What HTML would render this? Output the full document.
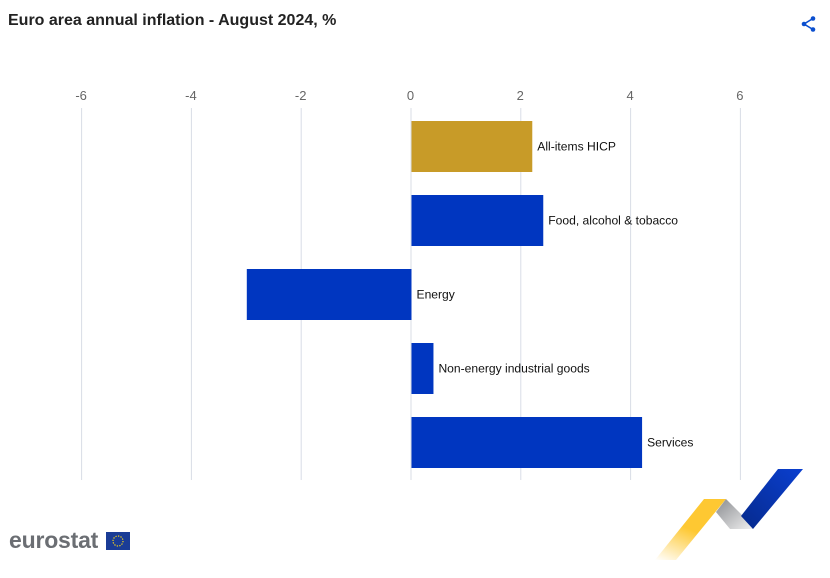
<!DOCTYPE html>
<html><head><meta charset="utf-8"><style>
body{margin:0;width:830px;height:578px;background:#fff;font-family:"Liberation Sans",sans-serif;overflow:hidden;position:relative}
#title{position:absolute;left:8px;top:12px;font-size:16px;font-weight:bold;color:#222}
</style></head><body>
<div id="title">Euro area annual inflation - August 2024, %</div>
<svg id="share" style="position:absolute;left:800px;top:15px" width="18" height="18" viewBox="0 0 18 18">
<circle cx="13" cy="3.5" r="2.3" fill="#0b4fcf"/><circle cx="4" cy="9" r="2.3" fill="#0b4fcf"/><circle cx="13" cy="14.5" r="2.3" fill="#0b4fcf"/>
<path d="M13 3.5L4 9L13 14.5" stroke="#0b4fcf" stroke-width="1.6" fill="none"/></svg>
<svg id="chart" width="830" height="578" style="position:absolute;left:0;top:0"></svg>
<script>
const categories=["All-items HICP","Food, alcohol & tobacco","Energy","Non-energy industrial goods","Services"];
const values=[2.2,2.4,-3.0,0.4,4.2];
const colors=["#c89b28","#0036c0","#0036c0","#0036c0","#0036c0"];
const ticks=[-6,-4,-2,0,2,4,6];
const ns="http://www.w3.org/2000/svg";
const svg=document.getElementById('chart');
const x=v=>411.5+v*54.9;
const top0=110,band=74,barH=51;
function mk(t,a){const e=document.createElementNS(ns,t);for(const k in a)e.setAttribute(k,a[k]);svg.appendChild(e);return e;}
ticks.forEach(t=>{
 const l=mk('line',{x1:x(t)-0.5,x2:x(t)-0.5,y1:108,y2:480,stroke:'#d8dde6','stroke-width':1});
 
 
 const tx=mk('text',{x:x(t)-1,y:100,'text-anchor':'middle','font-size':13,fill:'#666'});
 tx.textContent=t;
 
 
});
categories.forEach((c,i)=>{
 const v=values[i];const y=top0+i*band+11;
 const r=mk('rect',{x:Math.min(x(0),x(v)),y:y,width:Math.abs(x(v)-x(0)),height:barH,fill:colors[i]});
 
 
 const lx=(v>=0?x(v):x(0))+5;
 const t=mk('text',{x:lx,y:y+barH/2+4,'font-size':12.1,fill:'#111'});
 t.textContent=c;
 
 
});
</script>
<div style="position:absolute;left:9px;top:527px;font-size:23px;font-weight:bold;color:#6b6e73;letter-spacing:-0.2px">eurostat</div>
<svg style="position:absolute;left:106px;top:532px" width="24" height="18"><rect width="24" height="18" fill="#1a3c96"/><circle cx="12" cy="9" r="5" fill="none" stroke="#f3d21b" stroke-width="1.2" stroke-dasharray="1.3 1.3"/></svg>
<svg style="position:absolute;left:0;top:0" width="830" height="578">
<defs><linearGradient id="gy" x1="0" y1="1" x2="0.5" y2="0"><stop offset="0" stop-color="#fff"/><stop offset="0.6" stop-color="#fec832"/></linearGradient>
<linearGradient id="gg" x1="0" y1="0" x2="1" y2="1"><stop offset="0" stop-color="#8a8c90"/><stop offset="1" stop-color="#f0f0f0"/></linearGradient>
<linearGradient id="gb" x1="0" y1="1" x2="1" y2="0"><stop offset="0" stop-color="#062a8c"/><stop offset="1" stop-color="#0a3fd0"/></linearGradient></defs>
<polygon points="655,560 676,560 726,499 704,499" fill="url(#gy)"/>
<polygon points="726,499 742,515 753,529 730,529 716,512" fill="url(#gg)"/>
<polygon points="778,469 803,469 753,529 741,516" fill="url(#gb)"/>
</svg>
</body></html>
